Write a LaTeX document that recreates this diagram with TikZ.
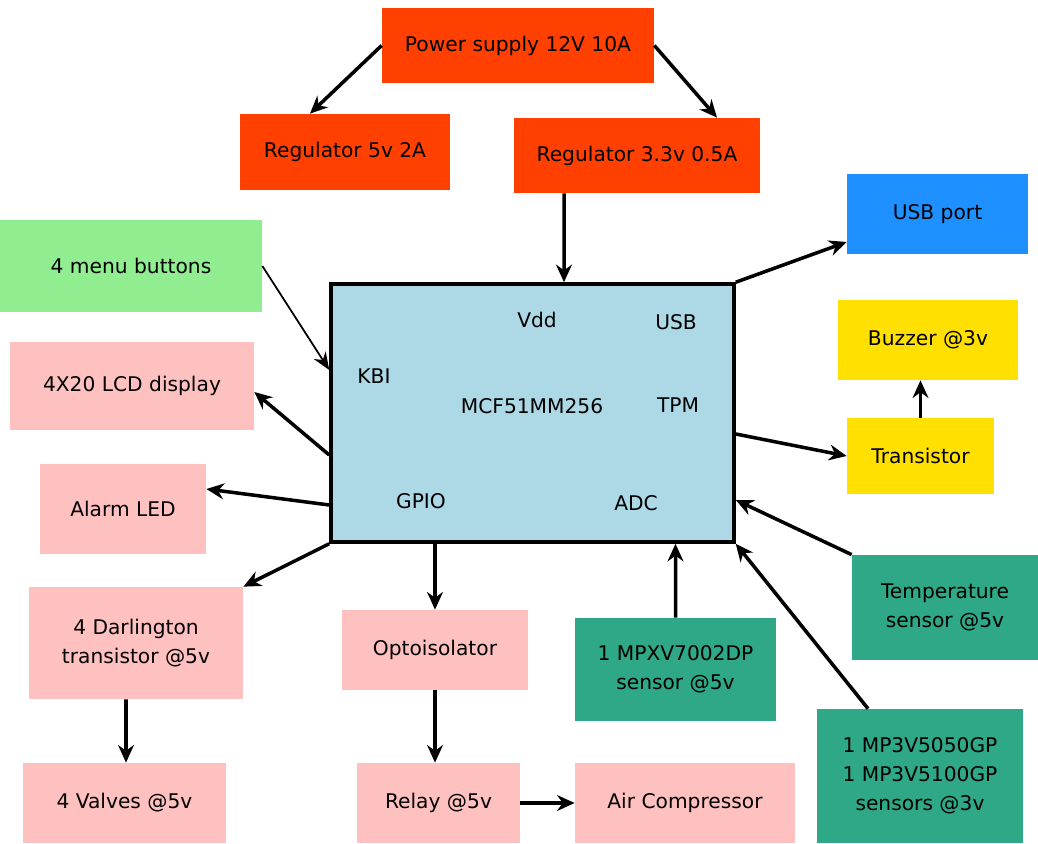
\documentclass[tikz,border=0pt]{standalone}
\usepackage{fontspec}
\setmainfont{DejaVu Sans}
\usepackage{tikz}
\usetikzlibrary{arrows.meta,positioning,calc}
\usepackage{xcolor}
\definecolor{powerred}{RGB}{255,64,0}
\definecolor{btngreen}{RGB}{144,238,144}
\definecolor{outpink}{RGB}{255,192,192}
\definecolor{chipblue}{RGB}{173,216,230}
\definecolor{usbblue}{RGB}{30,144,255}
\definecolor{buzzyellow}{RGB}{255,224,0}
\definecolor{sensteal}{RGB}{46,168,134}

\begin{document}
\begin{tikzpicture}[
    block/.style={rectangle, inner sep=0pt, align=center,
                  font=\fontsize{11.5}{16.5}\selectfont},
    pin/.style={inner sep=0pt, font=\fontsize{11.5}{14}\selectfont},
    arrow/.style={-{Stealth[length=10pt,width=9pt]}, line width=2pt},
    thinarrow/.style={-{Stealth[length=10pt,width=8pt]}, line width=1pt}
]
\useasboundingbox (0,0) rectangle (20.76,16.86);

% power section
\node[block, fill=powerred, minimum width=5.44cm, minimum height=1.50cm] (power) at (10.36,15.95) {Power supply 12V 10A};
\node[block, fill=powerred, minimum width=4.20cm, minimum height=1.52cm] (regA)  at (6.90,13.82)  {Regulator 5v 2A};
\node[block, fill=powerred, minimum width=4.92cm, minimum height=1.50cm] (regB)  at (12.74,13.75) {Regulator 3.3v 0.5A};

% microcontroller
\node[rectangle, draw, line width=2pt, fill=chipblue, minimum width=8.06cm, minimum height=5.16cm] (mcu) at (10.65,8.60) {};
\node[pin] (vdd)    at (10.74,10.46) {Vdd};
\node[pin] (usbpin) at (13.52,10.42) {USB};
\node[pin] (kbi)    at (7.48,9.34)   {KBI};
\node[pin] (chip)   at (10.64,8.74)  {MCF51MM256};
\node[pin] (tpm)    at (13.56,8.76)  {TPM};
\node[pin] (gpio)   at (8.42,6.84)   {GPIO};
\node[pin] (adc)    at (12.72,6.80)  {ADC};

% left side
\node[block, fill=btngreen, minimum width=5.24cm, minimum height=1.84cm] (menu)  at (2.62,11.54) {4 menu buttons};
\node[block, fill=outpink,  minimum width=4.88cm, minimum height=1.76cm] (lcd)   at (2.64,9.14)  {4X20 LCD display};
\node[block, fill=outpink,  minimum width=3.32cm, minimum height=1.80cm] (alarm) at (2.46,6.68)  {Alarm LED};

% bottom
\node[block, fill=outpink, minimum width=4.28cm, minimum height=2.24cm] (darl)   at (2.72,4.00) {4 Darlington\\transistor @5v};
\node[block, fill=outpink, minimum width=4.06cm, minimum height=1.60cm] (valves) at (2.49,0.80) {4 Valves @5v};
\node[block, fill=outpink, minimum width=3.72cm, minimum height=1.60cm] (opto)   at (8.70,3.86) {Optoisolator};
\node[block, fill=outpink, minimum width=3.26cm, minimum height=1.60cm] (relay)  at (8.77,0.80) {Relay @5v};
\node[block, fill=outpink, minimum width=4.40cm, minimum height=1.60cm] (air)    at (13.70,0.80) {Air Compressor};

% right side
\node[block, fill=usbblue,    minimum width=3.62cm, minimum height=1.60cm] (usb)    at (18.75,12.58) {USB port};
\node[block, fill=buzzyellow, minimum width=3.60cm, minimum height=1.60cm] (buzzer) at (18.56,10.06) {Buzzer @3v};
\node[block, fill=buzzyellow, minimum width=2.94cm, minimum height=1.52cm] (trans)  at (18.41,7.74)  {Transistor};

% sensors
\node[block, fill=sensteal, minimum width=4.02cm, minimum height=2.06cm] (mpxv) at (13.51,3.47) {1 MPXV7002DP\\sensor @5v};
\node[block, fill=sensteal, minimum width=3.72cm, minimum height=2.10cm] (temp) at (18.90,4.71) {Temperature\\sensor @5v};
\node[block, fill=sensteal, minimum width=4.12cm, minimum height=2.68cm] (mp3v) at (18.40,1.34) {1 MP3V5050GP\\1 MP3V5100GP\\sensors @3v};

\draw[arrow] (power.west) -- ($(regA.north)+(-0.70,0)$);
\draw[arrow] (power.east) -- ($(regB.north)+(1.60,0)$);
\draw[arrow] ($(regB.south)+(-1.46,0)$) -- ($(mcu.north)+(0.63,0)$);
\draw[arrow] (mcu.north east) -- ($(usb.west)+(0,-0.56)$);
\draw[thinarrow] (menu.east) -- ($(mcu.west)+(0,0.86)$);
\draw[arrow] ($(mcu.west)+(0,-0.84)$) -- ($(lcd.east)+(0,-0.12)$);
\draw[arrow] ($(mcu.west)+(0,-1.84)$) -- ($(alarm.east)+(0,0.40)$);
\draw[arrow] (mcu.south west) -- (darl.north east);
\draw[arrow] (opto.north |- mcu.south) -- (opto.north);
\draw[arrow] (opto.south) -- (opto.south |- relay.north);
\draw[arrow] ($(darl.south)+(-0.20,0)$) -- ($(valves.north)+(0.03,0)$);
\draw[arrow] (relay.east) -- (air.west);
\draw[arrow] (trans.north) -- ($(buzzer.south)+(-0.15,0)$);
\draw[arrow] ($(mcu.east)+(0,-0.42)$) -- (trans.west);
\draw[arrow] (temp.north west) -- ($(mcu.east)+(0,-1.74)$);
\draw[arrow] (mpxv.north) -- ($(mcu.south)+(2.86,0)$);
\draw[arrow] ($(mp3v.north)+(-1.04,0)$) -- (mcu.south east);
\end{tikzpicture}
\end{document}
